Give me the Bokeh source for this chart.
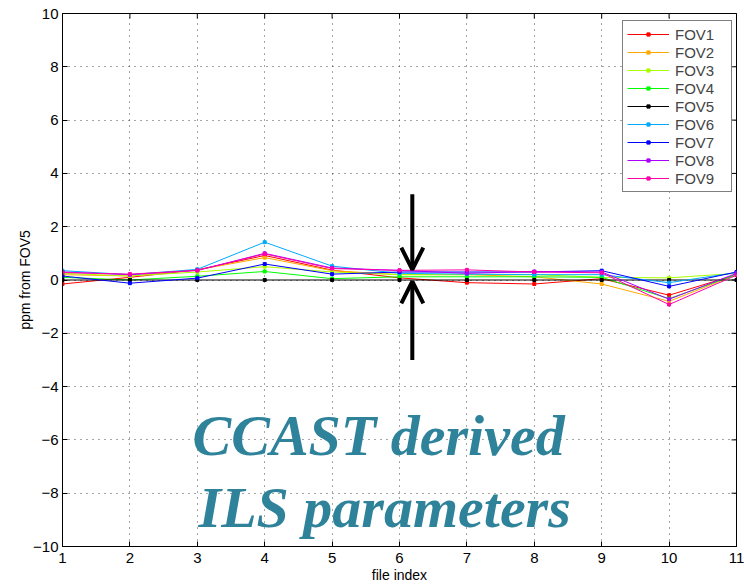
import math
from bokeh.plotting import figure
from bokeh.models import Range1d, FixedTicker, Arrow, OpenHead, Label
from bokeh.embed import file_html
from bokeh.resources import INLINE

# file index on the x axis
file_index = [1, 2, 3, 4, 5, 6, 7, 8, 9, 10, 11]

# ppm offset of each FOV relative to FOV5
fov1 = [-0.15, 0.10, 0.38, 0.92, 0.37, 0.08, -0.10, -0.15, 0.05, -0.57, 0.20]
fov2 = [0.20, 0.15, 0.38, 0.84, 0.35, 0.20, 0.20, 0.12, -0.15, -0.80, 0.20]
fov3 = [0.25, 0.15, 0.30, 0.50, 0.30, 0.20, 0.20, 0.20, 0.10, 0.08, 0.25]
fov4 = [0.10, 0.00, 0.14, 0.32, 0.05, 0.12, 0.12, 0.12, 0.10, -0.70, 0.20]
fov5 = [0.0, 0.0, 0.0, 0.0, 0.0, 0.0, 0.0, 0.0, 0.0, 0.0, 0.0]
fov6 = [0.35, 0.20, 0.40, 1.42, 0.52, 0.25, 0.22, 0.20, 0.20, -0.10, 0.28]
fov7 = [0.15, -0.12, 0.07, 0.60, 0.22, 0.30, 0.30, 0.30, 0.35, -0.24, 0.30]
fov8 = [0.30, 0.20, 0.36, 1.00, 0.45, 0.36, 0.25, 0.32, 0.30, -0.72, 0.25]
fov9 = [0.28, 0.22, 0.36, 0.98, 0.43, 0.36, 0.38, 0.30, 0.27, -0.92, 0.18]

series_names = ["FOV1", "FOV2", "FOV3", "FOV4", "FOV5", "FOV6", "FOV7", "FOV8", "FOV9"]
series_values = [fov1, fov2, fov3, fov4, fov5, fov6, fov7, fov8, fov9]
series_colors = ["#ff0000", "#ffaa00", "#aaff00", "#00ff00", "#000000",
                 "#00aaff", "#0000ff", "#aa00ff", "#ff00aa"]

x_ticks = [1, 2, 3, 4, 5, 6, 7, 8, 9, 10, 11]
y_ticks = [-10, -8, -6, -4, -2, 0, 2, 4, 6, 8, 10]
X_MIN, X_MAX = 1, 11
Y_MIN, Y_MAX = -10, 10

FONT = "Liberation Sans"

p = figure(width=744, height=585, output_backend="svg", toolbar_location=None,
           x_range=Range1d(X_MIN, X_MAX), y_range=Range1d(Y_MIN, Y_MAX),
           min_border_left=62, min_border_right=8, min_border_top=13,
           min_border_bottom=39)

p.background_fill_color = "white"
p.border_fill_color = "white"
p.outline_line_color = "black"
p.outline_line_width = 1

for ax in (p.xaxis[0], p.yaxis[0]):
    ax.major_tick_in = 5
    ax.major_tick_out = 0
    ax.minor_tick_line_color = None
    ax.axis_line_color = "black"
    ax.major_tick_line_color = "black"
    ax.major_label_text_font = FONT
    ax.major_label_text_font_size = "15px"
    ax.major_label_text_color = "black"
    ax.axis_label_text_font = FONT
    ax.axis_label_text_font_size = "14px"
    ax.axis_label_text_font_style = "normal"
    ax.axis_label_text_color = "black"

p.xaxis[0].ticker = FixedTicker(ticks=x_ticks)
p.yaxis[0].ticker = FixedTicker(ticks=y_ticks)
p.xaxis[0].axis_label = "file index"
p.yaxis[0].axis_label = "ppm from FOV5"
p.xaxis[0].major_label_standoff = 6
p.xaxis[0].axis_label_standoff = 1
p.yaxis[0].major_label_standoff = 4
p.yaxis[0].axis_label_standoff = -3

p.xgrid[0].ticker = FixedTicker(ticks=x_ticks)
p.ygrid[0].ticker = FixedTicker(ticks=y_ticks)
for g in (p.xgrid[0], p.ygrid[0]):
    g.grid_line_color = "black"
    g.grid_line_alpha = 0.7
    g.grid_line_width = 1
    g.grid_line_dash = "1 5"

# inward tick marks along the top and right edges of the box
p.scatter([X_MAX] * len(y_ticks), y_ticks, marker="dash", size=10,
          line_color="black", line_width=1)
p.scatter(x_ticks, [Y_MAX] * len(x_ticks), marker="dash", angle=math.pi / 2,
          size=10, line_color="black", line_width=1)

for name, vals, col in zip(series_names, series_values, series_colors):
    p.line(file_index, vals, line_color=col, line_width=1, legend_label=name)
    p.scatter(file_index, vals, marker="square", size=3, color=col, legend_label=name)

leg = p.legend[0]
leg.location = (560, 354)
leg.border_line_color = "black"
leg.border_line_width = 1
leg.background_fill_color = "white"
leg.background_fill_alpha = 1
leg.label_text_font = FONT
leg.label_text_font_size = "15px"
leg.label_height = 18
leg.glyph_height = 8
leg.glyph_width = 42
leg.label_width = 52
leg.label_standoff = 6
leg.spacing = 0
leg.padding = 4
leg.margin = 0

# arrows pointing at the zero line
arrow_x = 6.19
p.add_layout(Arrow(x_start=arrow_x, y_start=3.22, x_end=arrow_x, y_end=0.39,
                   line_width=4, line_color="black",
                   end=OpenHead(size=22, line_width=4, line_color="black")))
p.add_layout(Arrow(x_start=arrow_x, y_start=-3.0, x_end=arrow_x, y_end=-0.05,
                   line_width=4, line_color="black",
                   end=OpenHead(size=22, line_width=4, line_color="black")))

for txt, tx, ty in (("CCAST derived", 5.69, -5.82), ("ILS parameters", 5.78, -8.52)):
    p.add_layout(Label(x=tx, y=ty, text=txt, text_align="center",
                       text_baseline="alphabetic",
                       text_font="Liberation Serif", text_font_size="58px",
                       text_font_style="bold italic", text_color="#2e839a"))

open("out.html", "w").write(file_html(p, INLINE))
